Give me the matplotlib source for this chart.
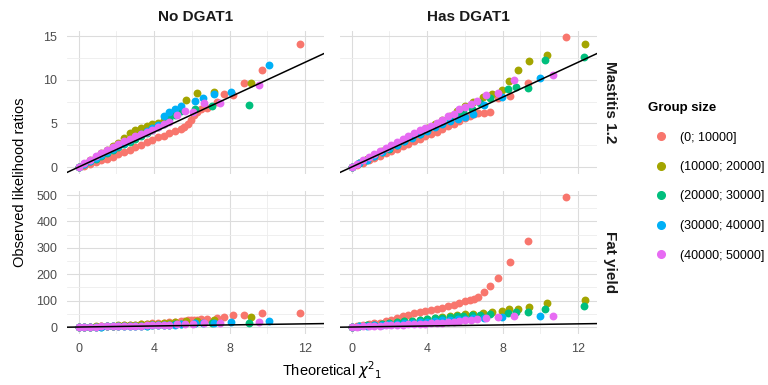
import numpy as np
import matplotlib
matplotlib.use('Agg')
from matplotlib import pyplot as plt
from matplotlib.lines import Line2D
from matplotlib.ticker import MultipleLocator

plt.rcParams['font.family'] = ['Liberation Sans', 'DejaVu Sans']
plt.rcParams['mathtext.fontset'] = 'dejavusans'

groups = ['(0; 10000]', '(10000; 20000]', '(20000; 30000]',
          '(30000; 40000]', '(40000; 50000]']
colors = ['#F8766D', '#A3A500', '#00BF7D', '#00B0F6', '#E76BF3']
columns = ['No DGAT1', 'Has DGAT1']
rows = ['Mastitis 1.2', 'Fat yield']

# ---- No DGAT1: theoretical quantiles (shared by both traits) ----
no_x_g1 = [0, 0.3, 0.6, 0.9, 1.2, 1.5, 1.8, 2.1, 2.4, 2.7, 3.0, 3.3, 3.6, 3.9,
           4.2, 4.5, 4.8, 5.1, 5.4, 5.6, 5.8, 5.95, 6.1, 6.3, 6.5, 6.8,
           7.35, 7.7, 8.2, 8.76, 9.7, 11.73]
no_x_g2 = [0, 0.3, 0.6, 0.9, 1.2, 1.5, 1.8, 2.1, 2.4, 2.7, 3.0, 3.3, 3.6, 3.9,
           4.2, 4.5, 4.8, 5.1, 5.67, 6.25, 7.16, 9.16]
no_x_g3 = [0, 0.3, 0.6, 0.9, 1.2, 1.5, 1.8, 2.1, 2.4, 2.7, 3.0, 3.3, 3.6, 3.9,
           4.2, 4.5, 4.8, 5.1, 5.4, 6.16, 7.08, 9.04]
no_x_g4 = [0, 0.3, 0.6, 0.9, 1.2, 1.5, 1.8, 2.1, 2.4, 2.7, 3.0, 3.3, 3.6, 3.9,
           4.2, 4.5, 4.8, 5.1, 5.4, 6.15, 6.6, 7.17, 8.1, 10.1]
no_x_g5 = [0, 0.3, 0.6, 0.9, 1.2, 1.5, 1.8, 2.1, 2.4, 2.7, 3.0, 3.3, 3.6, 3.9,
           4.2, 4.5, 4.8, 5.23, 5.62, 6.06, 6.64, 7.52, 9.54]

# No DGAT1, Mastitis 1.2
no_mast_g1 = [0, 0.15, 0.35, 0.6, 0.75, 0.95, 1.2, 1.5, 1.75, 2.0, 2.3, 2.55,
              2.85, 3.15, 3.4, 3.6, 3.85, 4.1, 4.4, 4.6, 4.9, 5.4, 5.95, 6.3,
              6.6, 6.8, 7.45, 8.33, 8.3, 9.6, 11.07, 14.06]
no_mast_g2 = [0, 0.4, 0.8, 1.2, 1.6, 2.0, 2.4, 2.8, 3.3, 3.9, 4.3, 4.5, 4.7,
              4.9, 5.1, 5.4, 5.8, 6.5, 7.7, 8.47, 8.6, 9.6]
no_mast_g3 = [0, 0.32, 0.65, 0.97, 1.3, 1.62, 1.95, 2.27, 2.6, 2.92, 3.25,
              3.57, 3.9, 4.22, 4.55, 4.95, 5.5, 6.0, 6.4, 6.7, 7.01, 7.13]
no_mast_g4 = [0, 0.33, 0.66, 1.0, 1.35, 1.7, 2.05, 2.4, 2.75, 3.1, 3.45, 3.8,
              4.15, 4.45, 4.8, 5.8, 6.3, 6.7, 7.0, 7.62, 7.9, 8.4, 8.62, 11.64]
no_mast_g5 = [0, 0.45, 0.85, 1.25, 1.6, 2.0, 2.35, 2.65, 2.95, 3.25, 3.5, 3.8,
              4.05, 4.3, 4.6, 4.9, 5.2, 5.98, 6.44, 6.36, 7.39, 7.39, 9.35]

# No DGAT1, Fat yield
no_fat_g1 = [0, 0.5, 1, 1.5, 2.5, 3.5, 4.5, 5.5, 6.5, 8, 9, 10.5, 12, 13.5, 15,
             17, 18.5, 20, 22, 23.5, 25, 26, 27, 28.5, 30, 31,
             33, 37, 44, 47, 52, 54]
no_fat_g2 = [0, 0.5, 1, 2, 3, 4, 5, 6, 7, 8, 9, 10, 11, 12, 13, 15, 17, 20,
             24, 24, 26.5, 37]
no_fat_g3 = [0, 0.4, 0.8, 1.2, 1.6, 2, 2.5, 3, 3.5, 4, 4.5, 5, 5.5, 6, 7, 8, 9,
             10, 11, 14, 16, 16]
no_fat_g4 = [0, 0.4, 0.8, 1.2, 1.6, 2, 2.5, 3, 3.5, 4, 4.5, 5, 5.5, 6, 6.5, 7,
             8, 9, 10, 14, 14, 16, 19, 23]
no_fat_g5 = [0, 0.5, 1, 1.5, 2, 2.5, 3, 3.5, 4, 4.5, 5, 5.5, 6, 6.5, 7, 7.5, 8,
             12, 12, 13, 14, 14, 18]

# ---- Has DGAT1: theoretical quantiles ----
has_x_g1 = [0, 0.3, 0.6, 0.9, 1.2, 1.5, 1.8, 2.1, 2.4, 2.7, 3.0, 3.3, 3.6,
            3.9, 4.2, 4.5, 4.8, 5.1, 5.4, 5.7, 6.0, 6.3,
            6.5, 6.71, 7.01, 7.33, 7.77, 8.39, 9.33, 11.35]
has_x_g2 = [0, 0.4, 0.8, 1.2, 1.6, 2.0, 2.4, 2.8, 3.2, 3.6, 4.0, 4.4, 4.8,
            5.2, 5.6, 6.0, 6.44, 6.97, 7.42, 7.98, 8.34, 8.8, 9.42, 10.37,
            12.39]
has_x_g3 = [0, 0.4, 0.8, 1.2, 1.6, 2.0, 2.4, 2.8, 3.2, 3.6, 4.0, 4.4, 4.8,
            5.2, 5.6, 5.91, 6.36, 6.8, 7.33, 8.27, 8.74, 9.33, 10.27, 12.3]
has_x_g4 = [0, 0.4, 0.8, 1.2, 1.6, 2.0, 2.4, 2.8, 3.2, 3.6, 4.0, 4.4, 4.8,
            5.2, 5.65, 6.0, 6.44, 7.01, 7.98, 9.98]
has_x_g5 = [0, 0.3, 0.6, 0.9, 1.2, 1.5, 1.8, 2.1, 2.4, 2.7, 3.0, 3.3, 3.6,
            3.9, 4.2, 4.5, 4.8, 5.1, 5.4, 5.7, 6.0, 6.32, 6.62, 7.12, 7.74,
            8.62, 10.66]

# Has DGAT1, Mastitis 1.2
has_mast_g1 = [0, 0.25, 0.5, 0.78, 1.05, 1.32, 1.6, 1.85, 2.1, 2.4, 2.65,
               2.95, 3.2, 3.5, 3.8, 4.05, 4.35, 4.65, 4.95, 5.25, 5.6, 5.9,
               6.05, 6.2, 6.2, 6.28, 7.9, 8.1, 9.68, 14.85]
has_mast_g2 = [0, 0.45, 0.9, 1.35, 1.8, 2.2, 2.65, 3.1, 3.55, 4.0, 4.45, 4.9,
               5.35, 5.8, 6.45, 7.0, 7.5, 8.08, 8.36, 8.85, 9.89, 11.15, 12.2,
               12.87, 14.1]
has_mast_g3 = [0, 0.42, 0.84, 1.26, 1.68, 2.1, 2.5, 2.95, 3.4, 3.8, 4.2, 4.65,
               5.1, 5.6, 6.0, 6.36, 6.63, 7.3, 7.9, 8.97, 9.12, 9.05, 12.3,
               12.6]
has_mast_g4 = [0, 0.43, 0.86, 1.29, 1.72, 2.15, 2.55, 2.95, 3.35, 3.75, 4.15,
               4.55, 4.95, 5.3, 5.5, 5.7, 6.05, 7.13, 8.08, 10.15]
has_mast_g5 = [0, 0.4, 0.75, 1.1, 1.45, 1.8, 2.15, 2.5, 2.85, 3.2, 3.55, 3.9,
               4.2, 4.5, 4.75, 5.0, 5.4, 5.8, 6.1, 6.6, 6.93, 7.2, 7.6, 8.2,
               8.47, 10.0, 10.57]

# Has DGAT1, Fat yield
has_fat_g1 = [0, 5, 8, 11, 14, 16, 21, 27, 33, 40, 46, 52, 56, 60, 63, 67, 73,
              79, 85, 91, 99, 104, 108, 113, 134, 154, 184, 245, 325, 491]
has_fat_g2 = [0, 3, 6, 9, 12, 15, 18, 21, 24, 27, 30, 33, 37, 41, 45, 48,
              50, 55, 58, 62, 68, 68, 75, 90, 102]
has_fat_g3 = [0, 3, 6, 9, 12, 15, 18, 21, 24, 27, 30, 33, 36, 39, 42,
              43, 45, 46, 48, 52, 56, 58, 68, 80]
has_fat_g4 = [0, 2, 4, 6, 8, 10, 12, 14, 16, 18, 20, 22, 25, 28,
              30, 31, 33, 35, 37, 43]
has_fat_g5 = [0, 1, 2, 3, 4, 5, 6, 7, 8, 9, 10, 11, 12, 13, 14, 15, 16, 18,
              20, 22, 25, 27, 29, 33, 39, 43, 43]

x_cols = [[no_x_g1, no_x_g2, no_x_g3, no_x_g4, no_x_g5],
          [has_x_g1, has_x_g2, has_x_g3, has_x_g4, has_x_g5]]
y_panels = [[[no_mast_g1, no_mast_g2, no_mast_g3, no_mast_g4, no_mast_g5],
             [has_mast_g1, has_mast_g2, has_mast_g3, has_mast_g4, has_mast_g5]],
            [[no_fat_g1, no_fat_g2, no_fat_g3, no_fat_g4, no_fat_g5],
             [has_fat_g1, has_fat_g2, has_fat_g3, has_fat_g4, has_fat_g5]]]


def expand(vals, mult=0.05):
    lo, hi = min(vals), max(vals)
    pad = (hi - lo)*mult
    return lo - pad, hi + pad


all_x = [v for col in x_cols for s in col for v in s]
xlim = expand(all_x)
ylims = [expand([v for col in row for s in col for v in s]) for row in y_panels]

fig = plt.figure(figsize=(7.68, 3.85), dpi=100)
W, H = 768, 385
lefts = [67, 340]
tops = [31, 191]
pw, ph = 257, 142.5

for r in range(2):
    for c in range(2):
        ax = fig.add_axes([lefts[c]/W, 1-(tops[r]+ph)/H, pw/W, ph/H])
        for g in range(5):
            ax.scatter(x_cols[c][g], y_panels[r][c][g], s=32, color=colors[g],
                       linewidths=0, zorder=3)
        ax.axline((0, 0), slope=1, color='black', lw=1.1, zorder=4)
        ax.set_xlim(xlim)
        ax.set_ylim(ylims[r])
        ax.xaxis.set_major_locator(MultipleLocator(4))
        ax.xaxis.set_minor_locator(MultipleLocator(2))
        if r == 0:
            ax.yaxis.set_major_locator(MultipleLocator(5))
            ax.yaxis.set_minor_locator(MultipleLocator(2.5))
        else:
            ax.yaxis.set_major_locator(MultipleLocator(100))
            ax.yaxis.set_minor_locator(MultipleLocator(50))
        ax.grid(which='major', color='#dcdcdc', lw=0.8)
        ax.grid(which='minor', color='#ededed', lw=0.6)
        ax.set_axisbelow(True)
        for sp in ax.spines.values():
            sp.set_visible(False)
        ax.tick_params(which='both', length=0, labelsize=9, colors='#4d4d4d',
                       pad=7)
        if c == 1:
            ax.tick_params(labelleft=False)
        if r == 0:
            ax.tick_params(labelbottom=False)
            ax.set_title(columns[c], fontsize=11, fontweight='bold',
                         color='#1a1a1a', pad=7)
        if c == 1:
            ax.text(1.025, 0.5, rows[r], transform=ax.transAxes, rotation=-90,
                    ha='left', va='center', fontsize=11, fontweight='bold',
                    color='#1a1a1a')

fig.text(20/W, 1-182/H, 'Observed likelihood ratios', rotation=90,
         ha='center', va='center', fontsize=10.5)
fig.text(332/W, 1-370/H, r'Theoretical $\chi^{2}{}_{1}$', ha='center',
         va='center', fontsize=10.5)

handles = [Line2D([], [], marker='o', ls='', color=col, markersize=5.5)
           for col in colors]
fig.legend(handles, groups, title='Group size', loc='upper left',
           bbox_to_anchor=(643/W, 1-97/H), frameon=False, fontsize=9,
           title_fontproperties={'weight': 'bold', 'size': 9.5},
           alignment='left', labelspacing=1.4, handletextpad=0.6,
           borderaxespad=0)

fig.savefig('out.png', dpi=100)
